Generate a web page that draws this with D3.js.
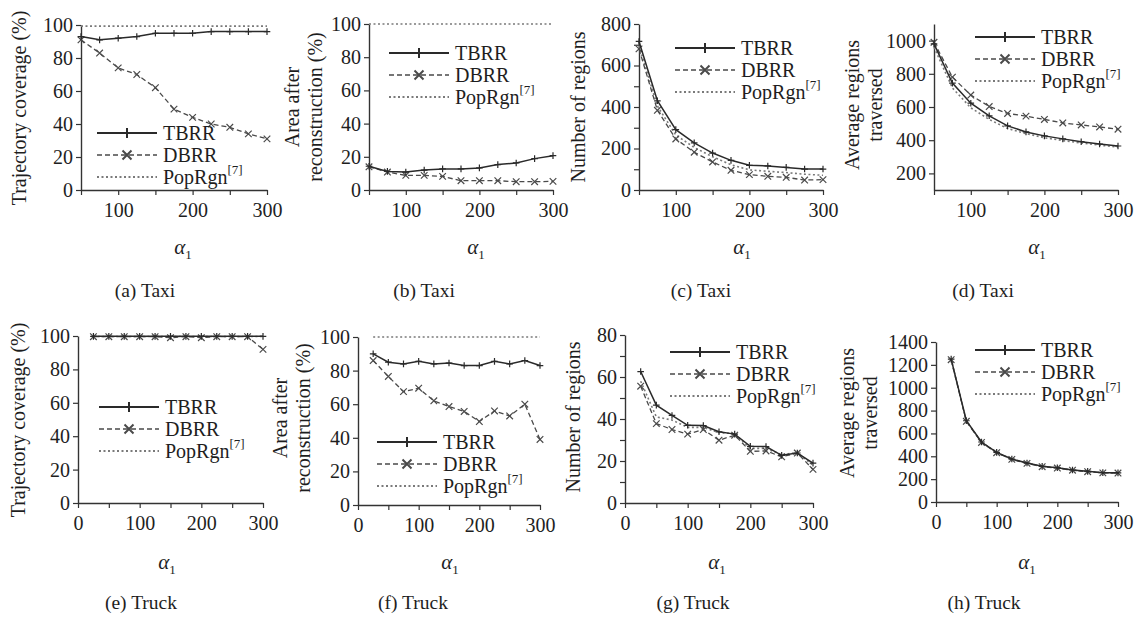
<!DOCTYPE html>
<html>
<head>
<meta charset="utf-8">
<script src="https://cdn.jsdelivr.net/npm/d3@7"></script>
<style>
  body { margin: 0; background: #fff; }
  svg text { font-family: "Liberation Serif", "Times New Roman", serif; fill: #1e1e1e; }
</style>
</head>
<body>
<svg id="chart" width="1137" height="617"></svg>
<script>
// alpha_1 values used on the x axis
const alphaTaxi = [50, 75, 100, 125, 150, 175, 200, 225, 250, 275, 300];
const alphaTruck = [25, 50, 75, 100, 125, 150, 175, 200, 225, 250, 275, 300];

// (a) trajectory coverage, taxi
const coverageTaxiTBRR = [93, 91, 92, 93, 95, 95, 95, 96, 96, 96, 96];
const coverageTaxiDBRR = [91, 83, 74, 70, 62, 49, 44, 40, 38, 34, 31];
const coverageTaxiPop = [99.3, 99.3, 99.3, 99.3, 99.3, 99.3, 99.3, 99.3, 99.3, 99.3, 99.3];

// (b) area after reconstruction, taxi
const areaTaxiTBRR = [14.3, 11.2, 10.8, 12, 12.7, 12.7, 13.3, 15.3, 16.3, 18.9, 20.7];
const areaTaxiDBRR = [14, 10.8, 8.8, 8.8, 8.2, 5.6, 5.6, 5.6, 5, 5, 5.2];
const areaTaxiPop = [100, 100, 100, 100, 100, 100, 100, 100, 100, 100, 100];

// (c) number of regions, taxi
const regionsTaxiTBRR = [716, 430, 291, 227, 178, 143, 119, 116, 109, 101, 101];
const regionsTaxiDBRR = [680, 384, 246, 182, 135, 95, 74, 66, 61, 48, 50];
const regionsTaxiPop = [695, 405, 265, 205, 160, 122, 97, 90, 84, 76, 71];

// (d) average regions traversed, taxi
const traversedTaxiTBRR = [980, 744, 623, 547, 486, 450, 426, 408, 391, 377, 365];
const traversedTaxiDBRR = [990, 780, 672, 603, 561, 545, 525, 504, 492, 480, 466];
const traversedTaxiPop = [960, 715, 595, 525, 470, 440, 415, 398, 383, 370, 358];

// (e) trajectory coverage, truck
const coverageTruckTBRR = [99.8, 99.8, 99.8, 99.8, 99.8, 99.8, 99.8, 99.8, 99.8, 99.8, 99.8, 99.8];
const coverageTruckDBRR = [99.6, 99.6, 99.6, 99.6, 99.6, 99, 99.6, 99, 99.6, 99.6, 99.6, 92];
const coverageTruckPop = [99.7, 99.7, 99.7, 99.7, 99.7, 99.7, 99.7, 99.7, 99.7, 99.7, 99.7, 99.7];

// (f) area after reconstruction, truck
const areaTruckTBRR = [90, 85, 84, 85.5, 84, 84.5, 83, 83, 85.5, 84, 86, 83];
const areaTruckDBRR = [86, 76.5, 67.5, 69.5, 62, 58.6, 55.7, 49.7, 56, 53, 60, 39];
const areaTruckPop = [100, 100, 100, 100, 100, 100, 100, 100, 100, 100, 100, 100];

// (g) number of regions, truck
const regionsTruckTBRR = [62.6, 46.6, 41.7, 37, 36.9, 33.9, 32.8, 27, 26.9, 22.7, 23.8, 19];
const regionsTruckDBRR = [55.6, 37.8, 35, 32.8, 35, 29.9, 32.3, 24.6, 24.8, 22, 23.8, 16];
const regionsTruckPop = [58, 41, 39.5, 36, 36, 33.5, 33, 26, 26, 23, 24, 18];

// (h) average regions traversed, truck
const traversedTruckTBRR = [1250, 711, 525, 434, 376, 341, 312, 300, 280, 268, 257, 255];
const traversedTruckDBRR = [1245, 706, 521, 431, 373, 338, 309, 297, 278, 265, 255, 253];
const traversedTruckPop = [1248, 709, 523, 432, 375, 340, 311, 299, 279, 267, 256, 254];

const seriesNames = ["TBRR", "DBRR", "PopRgn"];

// layout of every sub-plot (box = left, top, right, bottom)
const panels = [
  {cap: "(a) Taxi", xs: alphaTaxi, data: [coverageTaxiTBRR, coverageTaxiDBRR, coverageTaxiPop],
   box: [81, 25, 267, 190], xd: [50, 300], yd: [0, 100], yTicks: [0, 20, 40, 60, 80, 100], yMinor: [],
   title: ["Trajectory coverage (%)"], titleX: [19], titleY: 108, leg: [97, 133], capAt: [145, 290], alphaX: 183, alphaY: 248},
  {cap: "(b) Taxi", xs: alphaTaxi, data: [areaTaxiTBRR, areaTaxiDBRR, areaTaxiPop],
   box: [369, 24, 553, 190], xd: [50, 300], yd: [0, 100], yTicks: [0, 20, 40, 60, 80, 100], yMinor: [],
   title: ["Area after", "reconstruction (%)"], titleX: [292, 315], titleY: 107, leg: [389, 53], capAt: [424, 290], alphaX: 476, alphaY: 248},
  {cap: "(c) Taxi", xs: alphaTaxi, data: [regionsTaxiTBRR, regionsTaxiDBRR, regionsTaxiPop],
   box: [639, 24, 823, 190], xd: [50, 300], yd: [0, 800], yTicks: [0, 200, 400, 600, 800], yMinor: [100, 300, 500, 700],
   title: ["Number of regions"], titleX: [578], titleY: 107, leg: [675, 48], capAt: [701, 290], alphaX: 742, alphaY: 248},
  {cap: "(d) Taxi", xs: alphaTaxi, data: [traversedTaxiTBRR, traversedTaxiDBRR, traversedTaxiPop],
   box: [934, 24, 1118, 190], xd: [50, 300], yd: [100, 1100], yTicks: [200, 400, 600, 800, 1000], yMinor: [],
   title: ["Average regions", "traversed"], titleX: [852, 875], titleY: 105, leg: [975, 37], capAt: [983, 290], alphaX: 1037, alphaY: 248},
  {cap: "(e) Truck", xs: alphaTruck, data: [coverageTruckTBRR, coverageTruckDBRR, coverageTruckPop],
   box: [78, 336, 263, 503], xd: [0, 300], yd: [0, 100], yTicks: [0, 20, 40, 60, 80, 100], yMinor: [],
   title: ["Trajectory coverage (%)"], titleX: [18], titleY: 420, leg: [99, 407], capAt: [141, 602], alphaX: 167, alphaY: 563},
  {cap: "(f) Truck", xs: alphaTruck, data: [areaTruckTBRR, areaTruckDBRR, areaTruckPop],
   box: [358, 337, 540, 505], xd: [0, 300], yd: [0, 100], yTicks: [0, 20, 40, 60, 80, 100], yMinor: [],
   title: ["Area after", "reconstruction (%)"], titleX: [280, 303], titleY: 418, leg: [377, 442], capAt: [413, 602], alphaX: 450, alphaY: 563},
  {cap: "(g) Truck", xs: alphaTruck, data: [regionsTruckTBRR, regionsTruckDBRR, regionsTruckPop],
   box: [625, 335, 813, 503], xd: [0, 300], yd: [0, 80], yTicks: [0, 20, 40, 60, 80], yMinor: [10, 30, 50, 70],
   title: ["Number of regions"], titleX: [573], titleY: 417, leg: [670, 352], capAt: [693, 602], alphaX: 717, alphaY: 563},
  {cap: "(h) Truck", xs: alphaTruck, data: [traversedTruckTBRR, traversedTruckDBRR, traversedTruckPop],
   box: [936, 342, 1118, 502], xd: [0, 300], yd: [0, 1400], yTicks: [0, 200, 400, 600, 800, 1000, 1200, 1400], yMinor: [],
   title: ["Average regions", "traversed"], titleX: [847, 870], titleY: 413, leg: [975, 350], capAt: [984, 602], alphaX: 1027, alphaY: 563}
];

const styles = [
  {stroke: "#2a2a2a", dash: null, width: 1.5, marker: "plus"},
  {stroke: "#4a4a4a", dash: "5,3", width: 1.3, marker: "cross"},
  {stroke: "#7a7a7a", dash: "2,2.5", width: 1.6, marker: null}
];

const markerPath = (type, r) => type === "plus"
  ? `M${-r},0H${r}M0,${-r}V${r}`
  : `M${-r},${-r}L${r},${r}M${-r},${r}L${r},${-r}`;

const svg = d3.select("#chart");
const axisColor = "#333";

panels.forEach((p) => {
  const g = svg.append("g");
  const x = d3.scaleLinear().domain(p.xd).range([p.box[0], p.box[2]]);
  const y = d3.scaleLinear().domain(p.yd).range([p.box[3], p.box[1]]);

  const xTickVals = [0, 50, 100, 150, 200, 250, 300].filter(v => v >= p.xd[0]);
  const xAxis = g.append("g")
    .attr("transform", `translate(0,${p.box[3]})`)
    .call(d3.axisBottom(x).tickValues(xTickVals).tickSize(5).tickSizeOuter(0).tickPadding(8)
      .tickFormat(d => d % 100 === 0 ? d : ""));

  const yAxis = g.append("g")
    .attr("transform", `translate(${p.box[0]},0)`)
    .call(d3.axisLeft(y).tickValues(p.yTicks.concat(p.yMinor)).tickSize(5).tickSizeOuter(0).tickPadding(3)
      .tickFormat(d => p.yTicks.includes(d) ? d : ""));

  [xAxis, yAxis].forEach(a => {
    a.select(".domain").attr("stroke", axisColor).attr("stroke-width", 1.4);
    a.selectAll(".tick line").attr("stroke", axisColor).attr("stroke-width", 1.2);
    a.selectAll(".tick text").attr("font-size", 20).attr("fill", "#1e1e1e")
      .attr("font-family", '"Liberation Serif", serif');
  });

  // series, PopRgn drawn first so the others sit on top
  [2, 1, 0].forEach(si => {
    const st = styles[si];
    const vals = p.data[si];
    const pts = p.xs.map((a, i) => [a, vals[i]]);
    g.append("path")
      .datum(pts)
      .attr("fill", "none")
      .attr("stroke", st.stroke)
      .attr("stroke-width", st.width)
      .attr("stroke-dasharray", st.dash)
      .attr("d", d3.line().x(d => x(d[0])).y(d => y(d[1])));
    if (st.marker) {
      g.selectAll(null).data(pts).enter().append("path")
        .attr("transform", d => `translate(${x(d[0])},${y(d[1])})`)
        .attr("d", markerPath(st.marker, 3.3))
        .attr("fill", "none")
        .attr("stroke", st.stroke)
        .attr("stroke-width", 1.2);
    }
  });

  // legend
  seriesNames.forEach((name, i) => {
    const st = styles[i];
    const ly = p.leg[1] + i * 22;
    const lx = p.leg[0];
    g.append("line")
      .attr("x1", lx).attr("x2", lx + 60).attr("y1", ly).attr("y2", ly)
      .attr("stroke", st.stroke).attr("stroke-width", st.width + 0.3)
      .attr("stroke-dasharray", st.dash);
    if (st.marker) {
      g.append("path")
        .attr("transform", `translate(${lx + 30},${ly})`)
        .attr("d", markerPath(st.marker, st.marker === "plus" ? 5 : 4.5))
        .attr("fill", "none").attr("stroke", st.stroke).attr("stroke-width", 2);
    }
    const t = g.append("text")
      .attr("x", lx + 66).attr("y", ly).attr("dy", "0.35em")
      .attr("font-size", 20)
      .text(name);
    if (name === "PopRgn") {
      t.append("tspan").attr("font-size", 13).attr("dy", "-0.75em").text("[7]");
    }
  });

  // y axis title
  p.title.forEach((line, i) => {
    g.append("text")
      .attr("transform", `translate(${p.titleX[i]},${p.titleY}) rotate(-90)`)
      .attr("text-anchor", "middle")
      .attr("dy", "0.35em")
      .attr("font-size", 20)
      .text(line);
  });

  // x axis title
  const at = g.append("text")
    .attr("x", p.alphaX).attr("y", p.alphaY).attr("dy", "0.35em")
    .attr("text-anchor", "middle");
  at.append("tspan").attr("font-style", "italic").attr("font-size", 21).text("\u03b1");
  at.append("tspan").attr("font-size", 13).attr("dy", "5").text("1");

  // caption
  g.append("text")
    .attr("x", p.capAt[0]).attr("y", p.capAt[1]).attr("dy", "0.35em")
    .attr("text-anchor", "middle")
    .attr("font-size", 19.5)
    .text(p.cap);
});
</script>
</body>
</html>
